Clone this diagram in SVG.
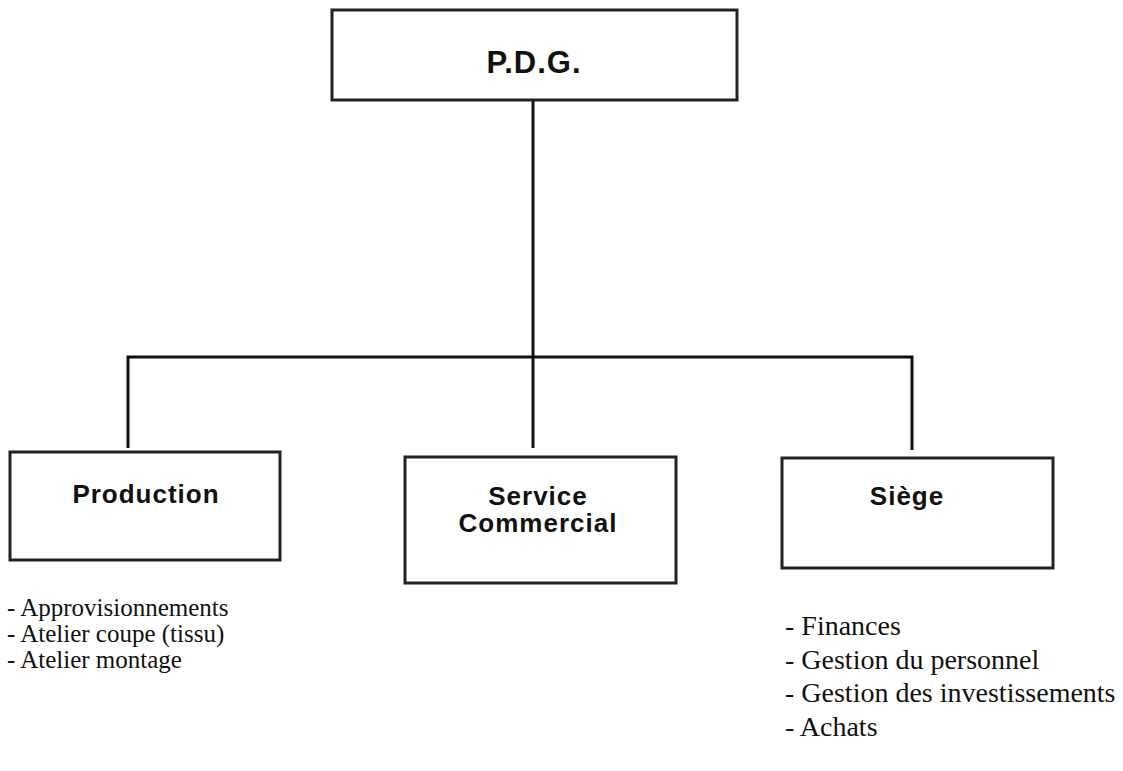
<svg xmlns="http://www.w3.org/2000/svg" width="1123" height="771" viewBox="0 0 1123 771">
<style>
.box{fill:#fff;stroke:#222;stroke-width:3}
.lbl{font-family:"Liberation Sans",Arial,sans-serif;font-weight:bold;fill:#111;text-anchor:middle;letter-spacing:1px}
.lst{font-family:"Liberation Serif","Times New Roman",serif;fill:#111}
.con{stroke:#111;stroke-width:3;fill:none}
</style>
<rect width="1123" height="771" fill="#fff"/>
<g id="connectors">
<line class="con" x1="533" y1="100" x2="533" y2="448"/>
<polyline class="con" points="128,448 128,357 912,357 912,450"/>
</g>
<g id="pdg">
<rect class="box" x="332" y="10" width="405" height="90"/>
<text class="lbl" x="534" y="73" font-size="31">P.D.G.</text>
</g>
<g id="production">
<rect class="box" x="10" y="452" width="270" height="108"/>
<text class="lbl" x="146" y="503" font-size="26">Production</text>
<text class="lst" x="7" y="616" font-size="25">- Approvisionnements</text>
<text class="lst" x="7" y="642" font-size="25">- Atelier coupe (tissu)</text>
<text class="lst" x="7" y="668" font-size="25">- Atelier montage</text>
</g>
<g id="service">
<rect class="box" x="405" y="457" width="271" height="126"/>
<text class="lbl" x="538" y="505" font-size="26">Service</text>
<text class="lbl" x="538" y="532" font-size="26">Commercial</text>
</g>
<g id="siege">
<rect class="box" x="782" y="458" width="271" height="110"/>
<text class="lbl" x="907" y="505" font-size="26">Siège</text>
<text class="lst" x="785" y="635" font-size="28">- Finances</text>
<text class="lst" x="785" y="669" font-size="28">- Gestion du personnel</text>
<text class="lst" x="785" y="702" font-size="28">- Gestion des investissements</text>
<text class="lst" x="785" y="736" font-size="28">- Achats</text>
</g>
</svg>
